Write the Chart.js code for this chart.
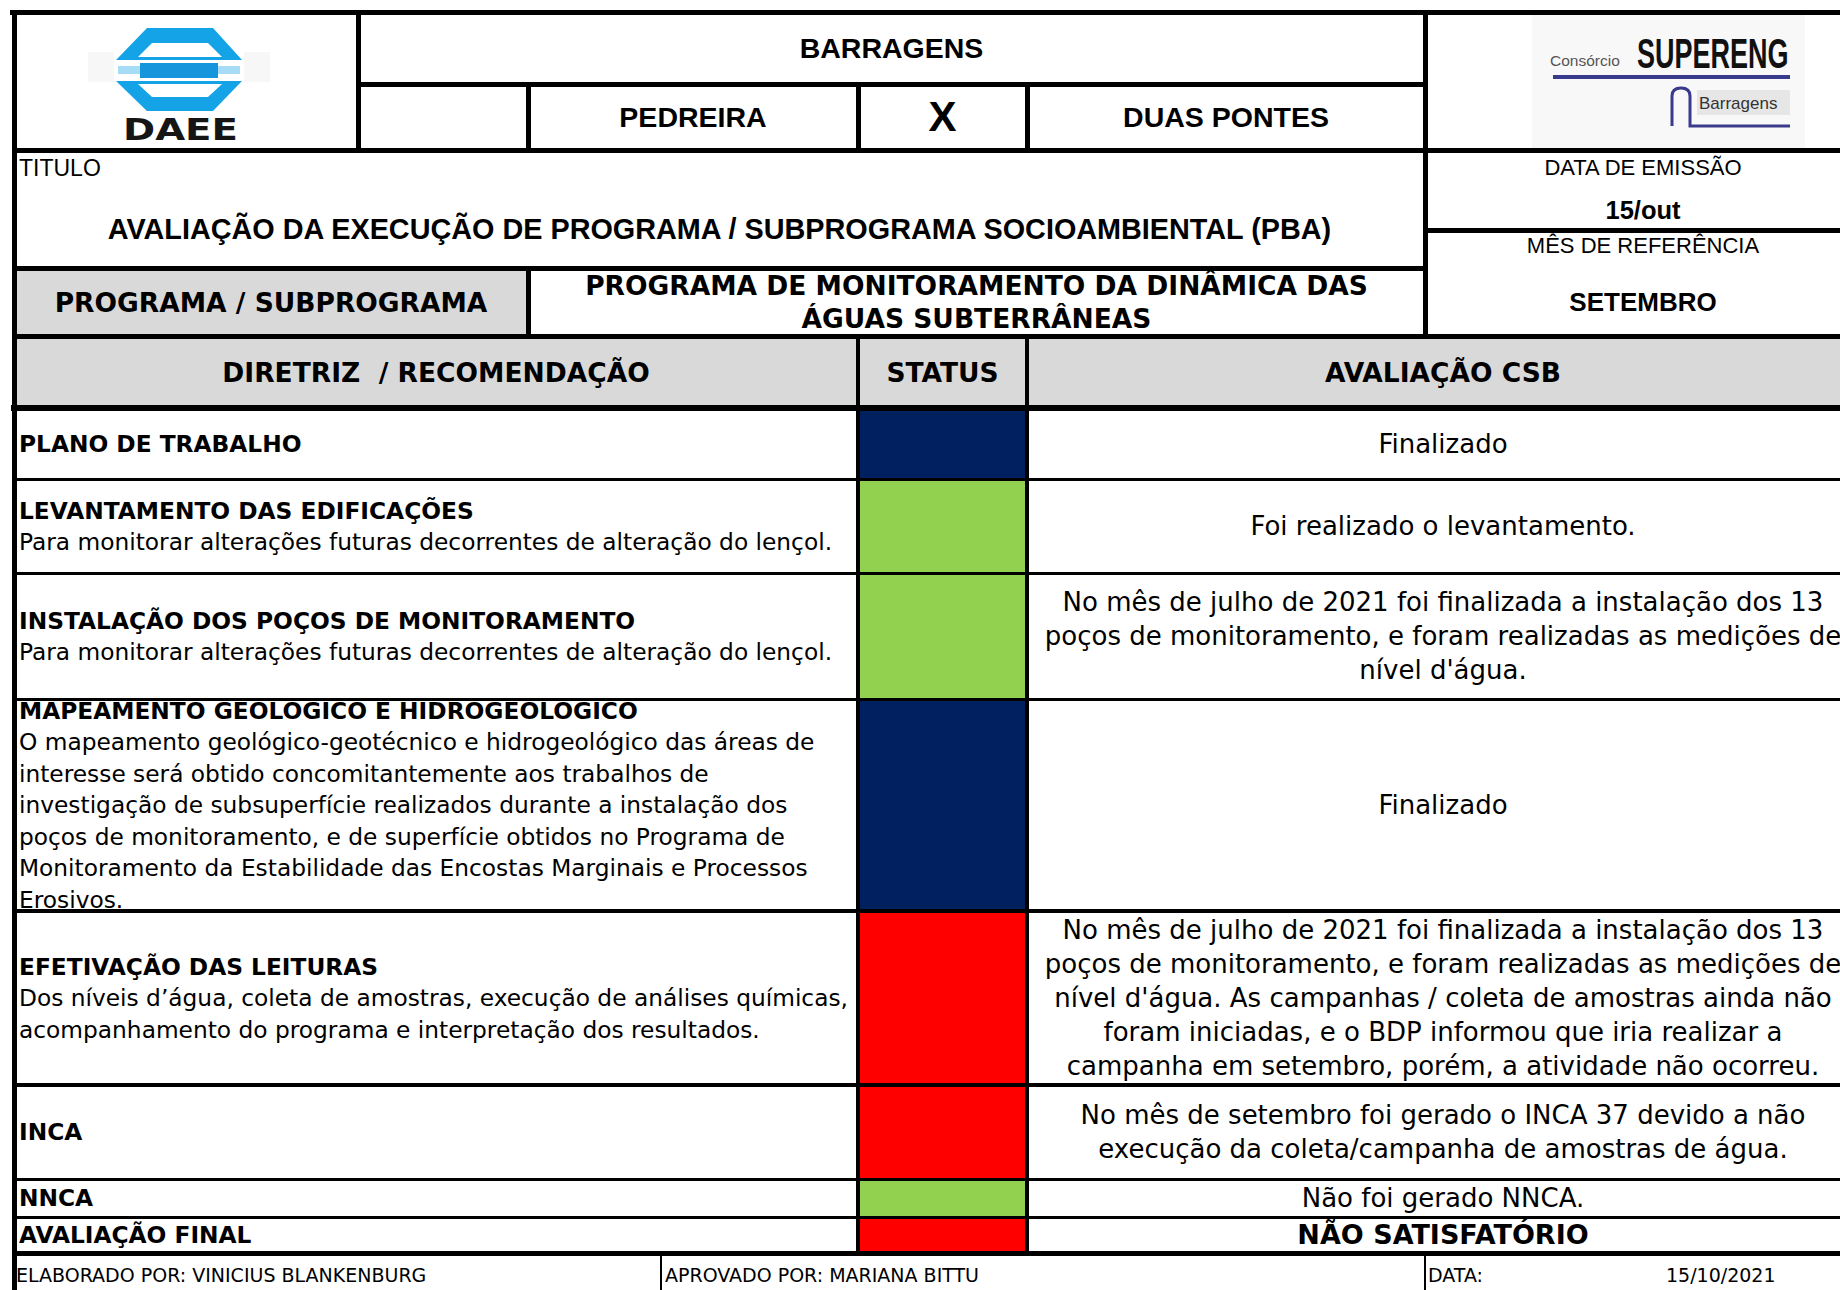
<!DOCTYPE html>
<html lang="pt-BR">
<head>
<meta charset="utf-8">
<title>Avaliação PBA - Águas Subterrâneas</title>
<script src="https://cdn.jsdelivr.net/npm/chart.js@4.4.0/dist/chart.umd.min.js"></script>
<style>
html, body { margin: 0; padding: 0; background: #fff; width: 1840px; height: 1290px; overflow: hidden; }
#sheet { position: relative; width: 1840px; height: 1290px; overflow: hidden; color: #000; }
.cell { position: absolute; display: flex; flex-direction: column; justify-content: center; box-sizing: border-box; white-space: nowrap; }
.center { align-items: center; text-align: center; }
.ln { position: absolute; background: #000; z-index: 5; }
.ar { font-family: "Liberation Sans", Arial, sans-serif; }
.arb { font-family: "Liberation Sans", Arial, sans-serif; font-weight: bold; font-size: 28.5px; }
.vd { font-family: "DejaVu Sans", Verdana, sans-serif; }
.vdb { font-family: "DejaVu Sans", Verdana, sans-serif; font-weight: bold; font-size: 26.5px; }
.gray { background: #d9d9d9; }
.left-txt { font-size: 23.3px; line-height: 31.5px; padding-left: 2px; }
.right-txt { font-size: 26px; line-height: 34px; }
.foot { font-size: 19px; }
.status-box { position: absolute; z-index: 1; }
</style>
</head>
<body>
<div id="sheet">
  <!-- logo DAEE -->
  <svg style="position:absolute;left:0;top:0;z-index:2" width="358" height="150">
    <rect x="88" y="52" width="26" height="30" fill="#f7f7f7"/>
    <rect x="244" y="52" width="26" height="30" fill="#f7f7f7"/>
    <path d="M147,28 L213,28 L242,60 L116,60 Z" fill="#14a3e6"/>
    <path d="M152,43 L208,43 L222,57 L138,57 Z" fill="#ffffff"/>
    <rect x="140" y="63" width="78" height="15" fill="#1596dc"/>
    <rect x="118" y="66" width="22" height="8" fill="#a6dcf6"/>
    <rect x="218" y="66" width="22" height="8" fill="#a6dcf6"/>
    <path d="M116,81 L242,81 L213,111 L147,111 Z" fill="#14a3e6"/>
    <path d="M138,84 L222,84 L208,97 L152,97 Z" fill="#ffffff"/>
    <text x="123" y="140" font-family="DejaVu Sans" font-weight="bold" font-size="31" fill="#151515" textLength="115" lengthAdjust="spacingAndGlyphs">DAEE</text>
  </svg>
  <!-- logo Consórcio SUPERENG -->
  <svg style="position:absolute;left:1425px;top:0;z-index:2" width="415" height="150">
    <rect x="107" y="14" width="273" height="134" fill="#f8f8f8"/>
    <text x="125" y="66" font-family="Liberation Sans" font-size="15.5" fill="#555">Consórcio</text>
    <text transform="translate(212,68) scale(1,1.6)" x="0" y="0" font-family="Liberation Sans" font-weight="bold" font-size="27" fill="#111">SUPERENG</text>
    <rect x="128" y="75" width="237" height="4" fill="#3a3a8c"/>
    <path d="M247,126 L247,96 Q247,88 256,88 Q265,88 265,96 L265,126 L365,126" stroke="#3a3a8c" stroke-width="3" fill="none"/>
    <rect x="272" y="90" width="93" height="25" fill="#e6e6e6"/>
    <text x="274" y="109" font-family="Liberation Sans" font-size="17" fill="#333">Barragens</text>
  </svg>
</div>

<script>
// ---- dados da planilha ----
const diretrizes = [
  'PLANO DE TRABALHO',
  'LEVANTAMENTO DAS EDIFICAÇÕES',
  'INSTALAÇÃO DOS POÇOS DE MONITORAMENTO',
  'MAPEAMENTO GEOLOGICO E HIDROGEOLOGICO',
  'EFETIVAÇÃO DAS LEITURAS',
  'INCA',
  'NNCA',
  'AVALIAÇÃO FINAL'
];
const descricoes = [
  [],
  ['Para monitorar alterações futuras decorrentes de alteração do lençol.'],
  ['Para monitorar alterações futuras decorrentes de alteração do lençol.'],
  ['O mapeamento geológico-geotécnico e hidrogeológico das áreas de',
   'interesse será obtido concomitantemente aos trabalhos de',
   'investigação de subsuperfície realizados durante a instalação dos',
   'poços de monitoramento, e de superfície obtidos no Programa de',
   'Monitoramento da Estabilidade das Encostas Marginais e Processos',
   'Erosivos.'],
  ['Dos níveis d’água, coleta de amostras, execução de análises químicas,',
   'acompanhamento do programa e interpretação dos resultados.'],
  [],
  [],
  []
];
const statusRows = ['concluido', 'atendido', 'atendido', 'concluido', 'nao_atendido', 'nao_atendido', 'atendido', 'nao_atendido'];
const avaliacoes = [
  ['Finalizado'],
  ['Foi realizado o levantamento.'],
  ['No mês de julho de 2021 foi finalizada a instalação dos 13',
   'poços de monitoramento, e foram realizadas as medições de',
   'nível d\'água.'],
  ['Finalizado'],
  ['No mês de julho de 2021 foi finalizada a instalação dos 13',
   'poços de monitoramento, e foram realizadas as medições de',
   'nível d\'água. As campanhas / coleta de amostras ainda não',
   'foram iniciadas, e o BDP informou que iria realizar a',
   'campanha em setembro, porém, a atividade não ocorreu.'],
  ['No mês de setembro foi gerado o INCA 37 devido a não',
   'execução da coleta/campanha de amostras de água.'],
  ['Não foi gerado NNCA.'],
  ['NÃO SATISFATÓRIO']
];

const statusColors = {
  concluido: '#002060',
  atendido: '#92d050',
  nao_atendido: '#ff0000'
};

// ---- layout ----
const sheet = document.getElementById('sheet');
const rowEdges = [408, 479, 573, 699, 911, 1085, 1179, 1217, 1253];

function box(cls, x, y, w, h, html, style) {
  const d = document.createElement('div');
  d.className = 'cell ' + cls;
  d.style.left = x + 'px';
  d.style.top = y + 'px';
  d.style.width = w + 'px';
  d.style.height = h + 'px';
  if (style) d.style.cssText += style;
  d.innerHTML = '<div>' + html + '</div>';
  sheet.appendChild(d);
  return d;
}

// cabeçalho
box('center arb', 358, 12, 1067, 72, 'BARRAGENS');
box('center arb', 528, 84, 330, 66, 'PEDREIRA');
box('center arb', 858, 84, 169, 66, 'X', 'font-size:42px;');
box('center arb', 1027, 84, 398, 66, 'DUAS PONTES');
box('ar', 19, 153, 300, 30, 'TITULO', 'font-size:23px;');
box('center arb', 14, 190, 1411, 78, 'AVALIAÇÃO DA EXECUÇÃO DE PROGRAMA / SUBPROGRAMA SOCIOAMBIENTAL (PBA)', 'font-size:28.8px;');
box('center ar', 1427, 153, 432, 30, 'DATA DE EMISSÃO', 'font-size:22px;');
box('center arb', 1427, 194, 432, 32, '15/out', 'font-size:25.5px;');
box('center ar', 1427, 231, 432, 30, 'MÊS DE REFERÊNCIA', 'font-size:22px;');
box('center arb', 1427, 268, 432, 68, 'SETEMBRO', 'font-size:26px;');
box('center vdb gray', 14, 268, 514, 68, 'PROGRAMA / SUBPROGRAMA');
box('center vdb', 528, 268, 897, 68, 'PROGRAMA DE MONITORAMENTO DA DINÂMICA DAS<br>ÁGUAS SUBTERRÂNEAS', 'line-height:33px;');
box('gray', 14, 336, 1846, 72, '');
box('center vdb', 14, 336, 844, 72, 'DIRETRIZ&nbsp; / RECOMENDAÇÃO');
box('center vdb', 858, 336, 169, 72, 'STATUS');
box('center vdb', 1027, 336, 832, 72, 'AVALIAÇÃO CSB');

// linhas das diretrizes
diretrizes.forEach((titulo, i) => {
  const top = rowEdges[i], bottom = rowEdges[i + 1];
  let html = '<b>' + titulo + '</b>';
  descricoes[i].forEach(t => { html += '<br>' + t; });
  box('vd left-txt', 17, top, 839, bottom - top, html);

  let right = avaliacoes[i].join('<br>');
  if (i === diretrizes.length - 1) right = '<b style="font-size:27px">' + right + '</b>';
  box('center vd right-txt', 1027, top, 832, bottom - top, right);

  // célula de status desenhada como barra do Chart.js
  const holder = document.createElement('div');
  holder.className = 'status-box';
  holder.style.left = '858px';
  holder.style.top = top + 'px';
  holder.style.width = '169px';
  holder.style.height = (bottom - top) + 'px';
  const cv = document.createElement('canvas');
  holder.appendChild(cv);
  sheet.appendChild(holder);

  new Chart(cv, {
    type: 'bar',
    data: {
      labels: [titulo],
      datasets: [{
        label: 'STATUS',
        data: [1],
        backgroundColor: statusColors[statusRows[i]],
        borderWidth: 0,
        barPercentage: 1,
        categoryPercentage: 1
      }]
    },
    options: {
      responsive: true,
      maintainAspectRatio: false,
      animation: false,
      events: [],
      layout: { padding: 0 },
      plugins: { legend: { display: false }, tooltip: { enabled: false } },
      scales: {
        x: { display: false },
        y: { display: false, min: 0, max: 1 }
      }
    }
  });
});

// rodapé
box('vd foot', 16, 1256, 640, 34, 'ELABORADO POR: VINICIUS BLANKENBURG', 'padding-top:3px;');
box('vd foot', 665, 1256, 700, 34, 'APROVADO POR: MARIANA BITTU', 'padding-top:3px;');
box('vd foot', 1428, 1256, 200, 34, 'DATA:', 'padding-top:3px;');
box('vd foot', 1666, 1256, 170, 34, '15/10/2021', 'padding-top:3px;');

// grade
const grid = [
  [12, 12, 1860, 12, 5],
  [14, 12, 14, 1290, 5],
  [358, 12, 358, 150, 5],
  [358, 84, 1425, 84, 5],
  [528, 84, 528, 150, 5],
  [858, 84, 858, 150, 5],
  [1027, 84, 1027, 150, 5],
  [1425, 12, 1425, 336, 5],
  [14, 150, 1860, 150, 5],
  [1425, 230, 1860, 230, 5],
  [14, 268, 1425, 268, 5],
  [528, 268, 528, 336, 5],
  [14, 336, 1860, 336, 5],
  [14, 408, 1860, 408, 6],
  [858, 336, 858, 1253, 4],
  [1027, 336, 1027, 1253, 4],
  [14, 479, 1860, 479, 3],
  [14, 573, 1860, 573, 3],
  [14, 699, 1860, 699, 3],
  [14, 911, 1860, 911, 4],
  [14, 1085, 1860, 1085, 4],
  [14, 1179, 1860, 1179, 3],
  [14, 1217, 1860, 1217, 3],
  [14, 1253, 1860, 1253, 5],
  [661, 1253, 661, 1290, 2],
  [1425, 1253, 1425, 1290, 2]
];
grid.forEach(([x1, y1, x2, y2, w]) => {
  const d = document.createElement('div');
  d.className = 'ln';
  d.style.left = (x1 - w / 2) + 'px';
  d.style.top = (y1 - w / 2) + 'px';
  d.style.width = (x2 - x1 + w) + 'px';
  d.style.height = (y2 - y1 + w) + 'px';
  sheet.appendChild(d);
});
</script>
</body>
</html>
